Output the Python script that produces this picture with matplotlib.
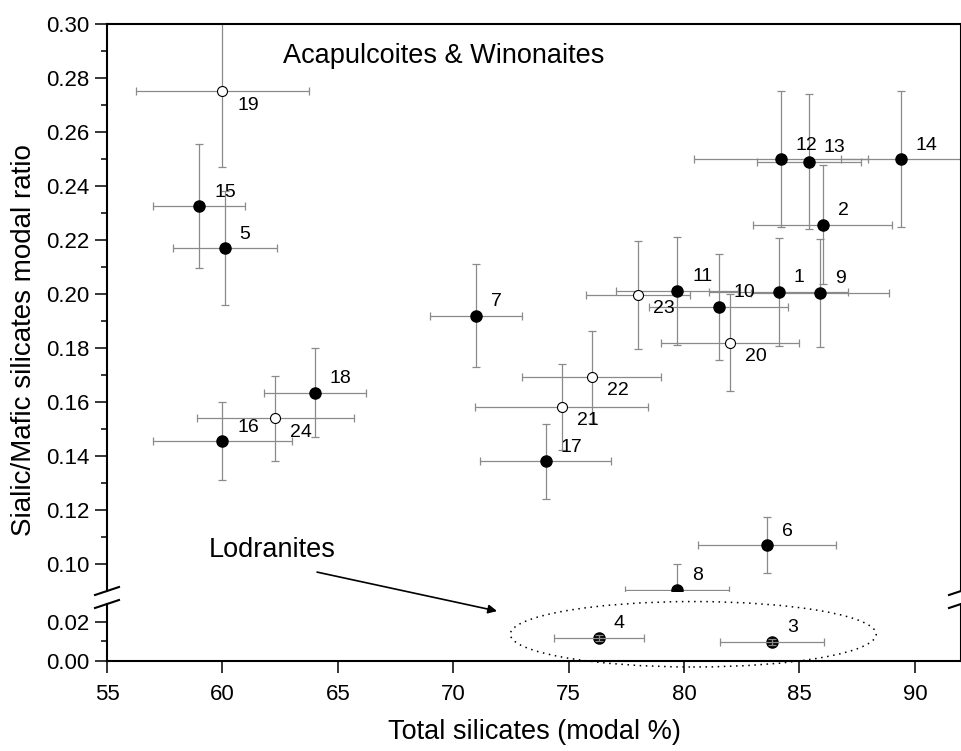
import matplotlib
matplotlib.use("Agg")
import matplotlib.pyplot as plt
from matplotlib.patches import Ellipse
from matplotlib.lines import Line2D
from matplotlib.ticker import FixedLocator

plt.rcParams["font.family"] = ["Liberation Sans", "DejaVu Sans"]

# Acapulcoites & Winonaites, filled symbols
filled_ids = ["1", "2", "5", "6", "7", "8", "9", "10", "11", "12", "13", "14", "15", "16", "17", "18"]
filled_x = [84.1, 86.0, 60.1, 83.6, 71.0, 79.7, 85.9, 81.5, 79.7, 84.2, 85.4, 89.4, 59.0, 60.0, 74.0, 64.0]
filled_y = [0.2008, 0.2256, 0.2170, 0.1070, 0.1920, 0.0905, 0.2004, 0.1952, 0.2012, 0.2500, 0.2490, 0.2500,
            0.2325, 0.1455, 0.1380, 0.1635]
filled_xerr = [3.0, 3.0, 2.25, 3.0, 2.0, 2.25, 3.0, 3.0, 2.65, 3.75, 2.25, 2.6, 2.0, 3.0, 2.85, 2.2]
filled_yerr = [0.020, 0.022, 0.021, 0.0105, 0.019, 0.0095, 0.020, 0.0195, 0.020, 0.025, 0.025, 0.025,
               0.023, 0.0145, 0.014, 0.0165]

# open symbols
open_ids = ["19", "20", "21", "22", "23", "24"]
open_x = [60.0, 82.0, 74.7, 76.0, 78.0, 62.3]
open_y = [0.2750, 0.1820, 0.1582, 0.1693, 0.1998, 0.1540]
open_xerr = [3.75, 3.0, 3.75, 3.0, 2.25, 3.4]
open_yerr = [0.028, 0.018, 0.016, 0.017, 0.020, 0.0158]

# Lodranites (lower panel)
lod_ids = ["3", "4"]
lod_x = [83.8, 76.3]
lod_y = [0.0097, 0.0118]
lod_xerr = [2.25, 1.95]
lod_yerr = [0.0015, 0.0015]

# labels placed below-right instead of above-right
below = {"19", "23", "20", "22", "21", "24"}

W, H = 962, 751
fig = plt.figure(figsize=(W / 100, H / 100), dpi=100)

left_px, right_px = 107, 961
ax = fig.add_axes([left_px / W, (H - 591) / H, (right_px - left_px) / W, (591 - 24) / H])
axb = fig.add_axes([left_px / W, (H - 661) / H, (right_px - left_px) / W, (661 - 604) / H])

err_kw = dict(fmt="none", ecolor="#8a8a8a", elinewidth=0.9, capsize=3.2, capthick=0.9)

ax.errorbar(filled_x, filled_y, xerr=filled_xerr, yerr=filled_yerr, zorder=2, **err_kw)
ax.errorbar(open_x, open_y, xerr=open_xerr, yerr=open_yerr, zorder=2, **err_kw)
ax.plot(filled_x, filled_y, "o", color="black", ms=8, zorder=3)
ax.plot(open_x, open_y, "o", mfc="white", mec="black", mew=0.8, ms=7.2, zorder=3)

axb.plot(lod_x, lod_y, "o", color="black", ms=8, zorder=2)
axb.errorbar(lod_x, lod_y, xerr=lod_xerr, yerr=lod_yerr, zorder=3, **err_kw)


def label(a, ids, xs, ys):
    for t, x, y in zip(ids, xs, ys):
        dy = -14 if t in below else 14
        a.annotate(t, (x, y), xytext=(15, dy), textcoords="offset pixels",
                   ha="left", va="center", fontsize=14)


label(ax, filled_ids, filled_x, filled_y)
label(ax, open_ids, open_x, open_y)
label(axb, lod_ids, lod_x, lod_y)

for a in (ax, axb):
    a.set_xlim(55, 92)
    for s in a.spines.values():
        s.set_linewidth(1.5)
    a.tick_params(axis="both", which="major", direction="out", length=8.5, width=1.1,
                  labelsize=16, pad=4)
    a.tick_params(axis="y", which="minor", direction="out", length=4.5, width=1.1)
    a.tick_params(right=False, top=False)

ax.set_ylim(0.09, 0.30)
ax.yaxis.set_major_locator(FixedLocator([0.10, 0.12, 0.14, 0.16, 0.18, 0.20, 0.22, 0.24, 0.26, 0.28, 0.30]))
ax.yaxis.set_minor_locator(FixedLocator([0.11, 0.13, 0.15, 0.17, 0.19, 0.21, 0.23, 0.25, 0.27, 0.29]))
ax.yaxis.set_major_formatter(plt.FormatStrFormatter("%.2f"))
ax.spines["bottom"].set_visible(False)
ax.tick_params(axis="x", which="both", bottom=False, labelbottom=False)

axb.set_ylim(0, 0.029)
axb.yaxis.set_major_locator(FixedLocator([0.00, 0.02]))
axb.yaxis.set_minor_locator(FixedLocator([0.01]))
axb.yaxis.set_major_formatter(plt.FormatStrFormatter("%.2f"))
axb.set_xticks([55, 60, 65, 70, 75, 80, 85, 90])
axb.tick_params(axis="x", which="major", pad=8)
axb.spines["top"].set_visible(False)

# lodranite group outline
ell = Ellipse((80.4, 0.0136), 15.85, 0.0333, fill=False, ec="black", lw=1.1,
              ls=(0, (1, 3)), clip_on=False, zorder=1)
axb.add_patch(ell)

axb.annotate("", xy=(71.9, 0.0254), xycoords="data", xytext=(64.1, 0.097), textcoords=ax.transData,
             arrowprops=dict(arrowstyle="-|>", color="black", lw=1.2, mutation_scale=13,
                             shrinkA=0, shrinkB=0), annotation_clip=False)

ax.text(62.62, 0.2856, "Acapulcoites & Winonaites", fontsize=19.5, va="baseline", ha="left")
ax.text(59.42, 0.1026, "Lodranites", fontsize=19.5, va="baseline", ha="left")

fig.text(24 / W, 1 - 340 / H, "Sialic/Mafic silicates modal ratio", rotation=90,
         ha="center", va="center", fontsize=20)
fig.text(534 / W, (H - 739) / H, "Total silicates (modal %)", ha="center", va="baseline", fontsize=19.5)

# axis break marks
for xc in (left_px, right_px):
    for yc in (591, 604):
        fig.add_artist(Line2D([(xc - 12) / W, (xc + 12) / W], [(H - yc - 4) / H, (H - yc + 4) / H],
                              transform=fig.transFigure, color="black", lw=1.5))

fig.savefig("out.png", dpi=100)
